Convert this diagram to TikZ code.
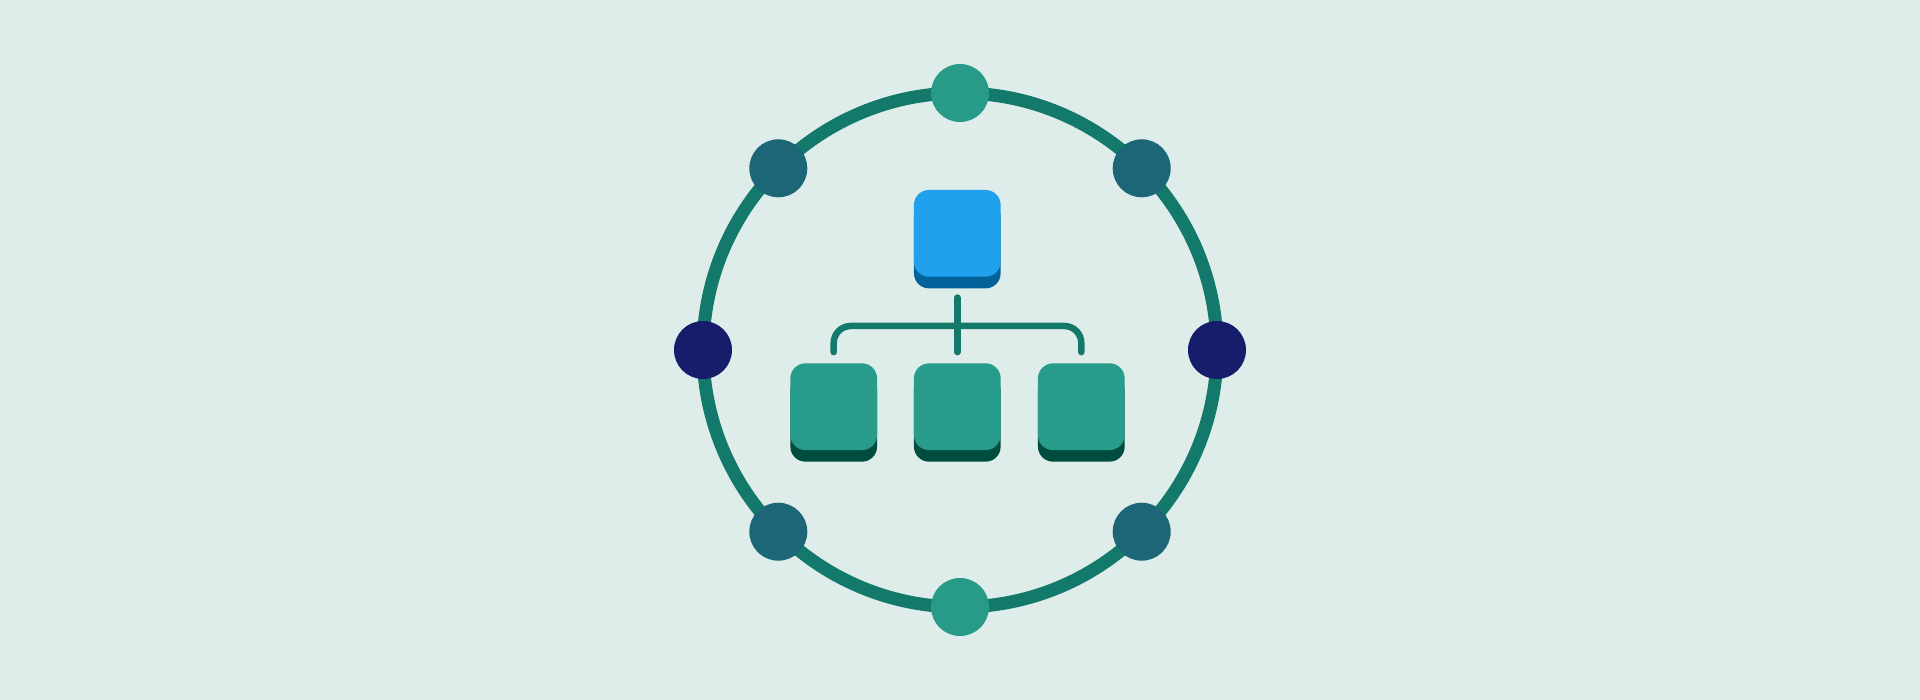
\documentclass[tikz,border=0pt]{standalone}
\usetikzlibrary{calc}
\definecolor{bg}{HTML}{DFEDEA}
\definecolor{ringc}{HTML}{13796A}
\definecolor{dotA}{HTML}{289A88}
\definecolor{dotB}{HTML}{1C6677}
\definecolor{dotC}{HTML}{161E6C}
\definecolor{blueL}{HTML}{21A0EE}
\definecolor{blueD}{HTML}{01639A}
\definecolor{greenL}{HTML}{289C8A}
\definecolor{greenD}{HTML}{004D40}
\begin{document}
\begin{tikzpicture}[x=1pt,y=-1pt,
  dot/.style={circle,inner sep=0pt,minimum size=58pt},
  tile/.style={rectangle,rounded corners=15pt,inner sep=0pt,minimum width=86.7pt,minimum height=86.7pt},
  link/.style={draw=ringc,line width=6.5pt,line cap=round}]
\fill[bg] (0,0) rectangle (1920,700);
\useasboundingbox (0,0) rectangle (1920,700);
\coordinate (c) at (960,350);
\draw[ringc,line width=13pt] (c) circle[radius=257];
% dots on the ring
\node[dot,fill=dotA] (top) at (960,93) {};
\node[dot,fill=dotA] (bottom) at (960,607) {};
\node[dot,fill=dotC] (left) at (703,350) {};
\node[dot,fill=dotC] (right) at (1217,350) {};
\node[dot,fill=dotB] (ul) at (778.3,168.3) {};
\node[dot,fill=dotB] (ur) at (1141.7,168.3) {};
\node[dot,fill=dotB] (ll) at (778.3,531.7) {};
\node[dot,fill=dotB] (lr) at (1141.7,531.7) {};
% tiles
\node[tile,fill=blueD] (rootS) at (957.3,245) {};
\node[tile,fill=blueL] (root) at (957.3,233.3) {};
\node[tile,fill=greenD] (kid1S) at (833.7,418.3) {};
\node[tile,fill=greenL] (kid1) at (833.7,406.7) {};
\node[tile,fill=greenD] (kid2S) at (957.3,418.3) {};
\node[tile,fill=greenL] (kid2) at (957.3,406.7) {};
\node[tile,fill=greenD] (kid3S) at (1081.3,418.3) {};
\node[tile,fill=greenL] (kid3) at (1081.3,406.7) {};
% connectors
\coordinate (j) at (957.3,326);
\draw[link] ($(rootS.south)+(0,9)$) -- ($(kid2.north)+(0,-11)$);
\draw[link,rounded corners=17pt] ($(kid1.north)+(0,-11)$) -- (kid1.north |- j) -- (kid3.north |- j) -- ($(kid3.north)+(0,-11)$);
\end{tikzpicture}
\end{document}
